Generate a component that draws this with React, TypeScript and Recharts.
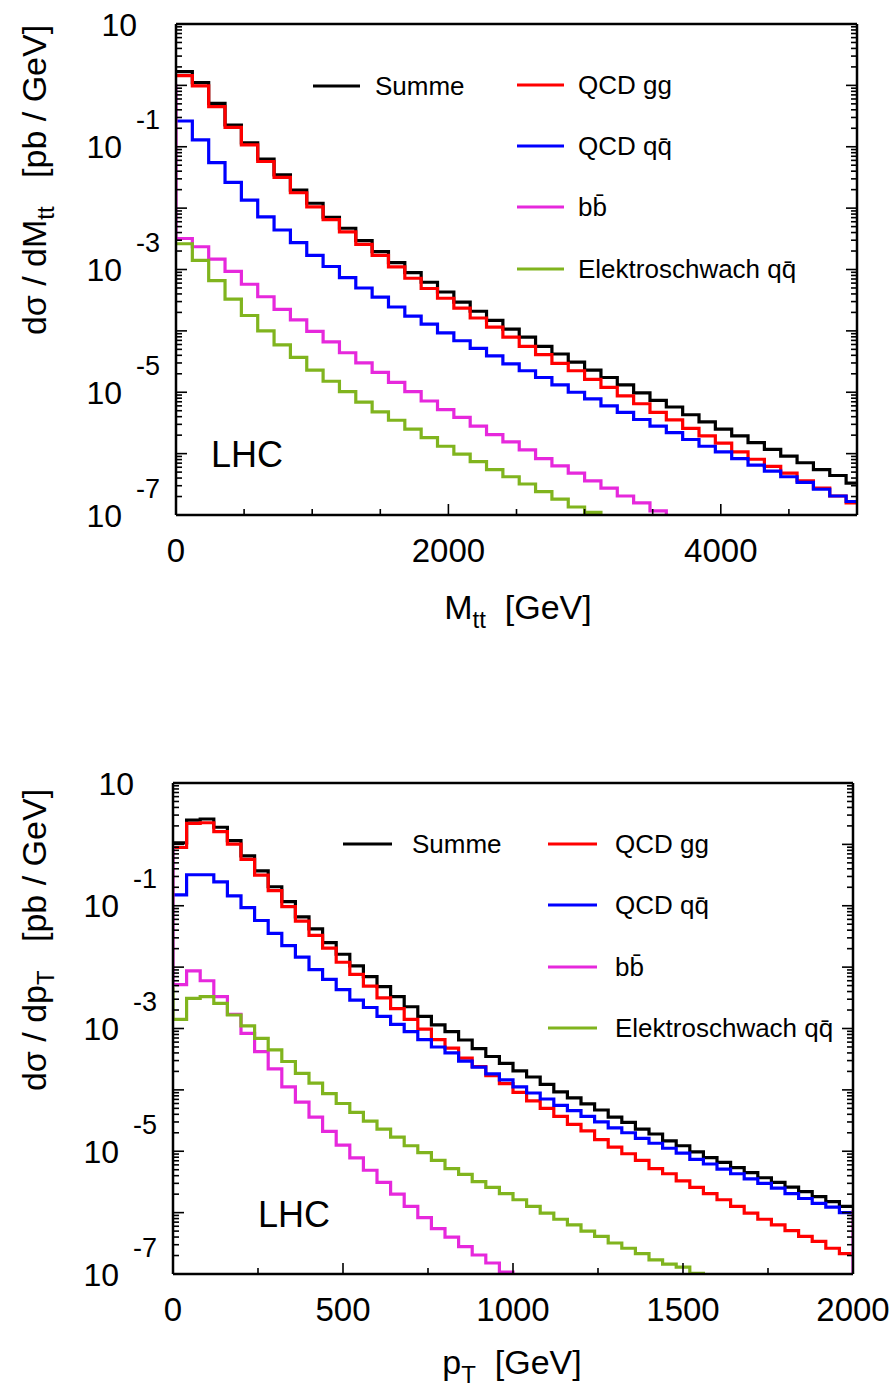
import { LineChart, Line, XAxis, YAxis, Legend } from "recharts";

// ---- data (bin left edges + per-bin values) ----

const MTT_EDGES = [
  0, 120, 240, 360, 480, 600, 720, 840, 960, 1080, 1200, 1320, 1440, 1560, 1680, 1800, 1920, 2040,
  2160, 2280, 2400, 2520, 2640, 2760, 2880, 3000, 3120, 3240, 3360, 3480, 3600, 3720, 3840, 3960,
  4080, 4200, 4320, 4440, 4560, 4680, 4800, 4920, 5040,
];

const MTT_SUMME = [
  1.67, 1.11, 5.1e-1, 2.26e-1, 1.16e-1, 6.3e-2, 3.47e-2, 1.97e-2, 1.2e-2, 7.1e-3, 4.7e-3, 2.95e-3,
  1.95e-3, 1.29e-3, 8.9e-4, 6.2e-4, 4.3e-4, 2.95e-4, 2.09e-4, 1.48e-4, 1.07e-4, 7.9e-5, 5.6e-5,
  4.2e-5, 3.1e-5, 2.3e-5, 1.74e-5, 1.32e-5, 9.8e-6, 7.4e-6, 5.75e-6, 4.3e-6, 3.3e-6, 2.5e-6,
  1.95e-6, 1.51e-6, 1.17e-6, 9.1e-7, 7.1e-7, 5.5e-7, 4.4e-7, 3.3e-7,
];
const MTT_GG = [
  1.44, 9.8e-1, 4.5e-1, 2.07e-1, 1.07e-1, 5.75e-2, 3.16e-2, 1.78e-2, 1.05e-2, 6.5e-3, 4.1e-3,
  2.57e-3, 1.7e-3, 1.1e-3, 7.2e-4, 4.9e-4, 3.4e-4, 2.34e-4, 1.62e-4, 1.15e-4, 7.9e-5, 5.6e-5,
  4.1e-5, 2.95e-5, 2.24e-5, 1.62e-5, 1.2e-5, 8.7e-6, 6.5e-6, 4.7e-6, 3.55e-6, 2.57e-6, 1.95e-6,
  1.48e-6, 1.07e-6, 8.1e-7, 6.2e-7, 4.8e-7, 3.6e-7, 2.75e-7, 2.04e-7, 1.58e-7,
];
const MTT_QQ = [
  2.63e-1, 1.29e-1, 5.5e-2, 2.63e-2, 1.35e-2, 7.2e-3, 4.4e-3, 2.75e-3, 1.7e-3, 1.12e-3, 7.4e-4,
  5.0e-4, 3.55e-4, 2.45e-4, 1.74e-4, 1.29e-4, 9.3e-5, 6.9e-5, 5.2e-5, 3.9e-5, 2.9e-5, 2.24e-5,
  1.74e-5, 1.32e-5, 1.0e-5, 7.8e-6, 6.0e-6, 4.7e-6, 3.6e-6, 2.8e-6, 2.2e-6, 1.7e-6, 1.32e-6,
  1.07e-6, 8.3e-7, 6.5e-7, 5.2e-7, 4.2e-7, 3.4e-7, 2.63e-7, 2.04e-7, 1.66e-7,
];
const MTT_BB_START = 1.05;
const MTT_BB = [
  3.2e-3, 2.35e-3, 1.48e-3, 9.3e-4, 5.75e-4, 3.6e-4, 2.24e-4, 1.51e-4, 9.8e-5, 6.6e-5, 4.4e-5,
  3.0e-5, 2.1e-5, 1.45e-5, 1.02e-5, 7.2e-6, 5.2e-6, 3.9e-6, 2.8e-6, 2.04e-6, 1.55e-6, 1.15e-6,
  8.3e-7, 6.3e-7, 4.8e-7, 3.6e-7, 2.75e-7, 2.04e-7, 1.58e-7, 1.17e-7, 8.5e-8,
];
const MTT_EW = [
  2.63e-3, 1.41e-3, 6.6e-4, 3.3e-4, 1.78e-4, 1.0e-4, 5.9e-5, 3.7e-5, 2.3e-5, 1.51e-5, 1.02e-5,
  6.9e-6, 4.8e-6, 3.5e-6, 2.5e-6, 1.82e-6, 1.32e-6, 9.8e-7, 7.4e-7, 5.5e-7, 4.2e-7, 3.2e-7,
  2.4e-7, 1.82e-7, 1.35e-7, 1.1e-7, 8.5e-8,
];

const PT_EDGES = [
  0, 40, 80, 120, 160, 200, 240, 280, 320, 360, 400, 440, 480, 520, 560, 600, 640, 680, 720, 760,
  800, 840, 880, 920, 960, 1000, 1040, 1080, 1120, 1160, 1200, 1240, 1280, 1320, 1360, 1400, 1440,
  1480, 1520, 1560, 1600, 1640, 1680, 1720, 1760, 1800, 1840, 1880, 1920, 1960, 2000,
];

const PT_SUMME = [
  1.06, 2.49, 2.59, 1.9, 1.15, 6.5e-1, 3.7e-1, 2.04e-1, 1.17e-1, 6.6e-2, 4.2e-2, 2.5e-2, 1.62e-2,
  1.05e-2, 7.0e-3, 4.8e-3, 3.3e-3, 2.26e-3, 1.58e-3, 1.15e-3, 8.9e-4, 6.5e-4, 4.7e-4, 3.5e-4,
  2.7e-4, 2.04e-4, 1.62e-4, 1.23e-4, 9.3e-5, 7.4e-5, 5.9e-5, 4.7e-5, 3.6e-5, 2.95e-5, 2.3e-5,
  1.91e-5, 1.48e-5, 1.23e-5, 9.8e-6, 7.9e-6, 6.6e-6, 5.4e-6, 4.5e-6, 3.7e-6, 3.1e-6, 2.6e-6,
  2.2e-6, 1.82e-6, 1.51e-6, 1.26e-6,
];
const PT_GG = [
  8.9e-1, 2.2, 2.25, 1.61, 1.01, 5.7e-1, 3.16e-1, 1.76e-1, 9.7e-2, 5.6e-2, 3.3e-2, 2.04e-2, 1.2e-2,
  7.6e-3, 4.9e-3, 3.16e-3, 2.1e-3, 1.41e-3, 9.8e-4, 6.6e-4, 4.8e-4, 3.3e-4, 2.4e-4, 1.7e-4,
  1.26e-4, 9.1e-5, 6.6e-5, 5.0e-5, 3.7e-5, 2.75e-5, 2.14e-5, 1.55e-5, 1.17e-5, 9.1e-6, 7.1e-6,
  5.2e-6, 4.3e-6, 3.3e-6, 2.57e-6, 2.04e-6, 1.62e-6, 1.26e-6, 9.8e-7, 7.8e-7, 6.3e-7, 5.1e-7,
  4.1e-7, 3.4e-7, 2.63e-7, 2.14e-7,
];
const PT_QQ = [
  1.5e-1, 3.2e-1, 3.2e-1, 2.45e-1, 1.45e-1, 9.3e-2, 5.75e-2, 3.55e-2, 2.24e-2, 1.45e-2, 9.1e-3,
  6.3e-3, 4.3e-3, 2.9e-3, 2.2e-3, 1.58e-3, 1.17e-3, 8.9e-4, 6.6e-4, 5.0e-4, 4.0e-4, 2.95e-4,
  2.34e-4, 1.82e-4, 1.45e-4, 1.12e-4, 8.9e-5, 7.1e-5, 5.6e-5, 4.6e-5, 3.7e-5, 3.0e-5, 2.4e-5,
  2.0e-5, 1.62e-5, 1.35e-5, 1.12e-5, 9.3e-6, 7.4e-6, 6.2e-6, 5.1e-6, 4.3e-6, 3.55e-6, 3.0e-6,
  2.5e-6, 2.04e-6, 1.7e-6, 1.41e-6, 1.23e-6, 1.0e-6,
];
const PT_BB_START = 0.94;
const PT_BB = [
  5.2e-3, 8.7e-3, 6.0e-3, 3.3e-3, 1.7e-3, 8.3e-4, 4.2e-4, 2.2e-4, 1.12e-4, 6.3e-5, 3.6e-5, 2.1e-5,
  1.26e-5, 7.8e-6, 4.9e-6, 3.1e-6, 2.0e-6, 1.26e-6, 8.3e-7, 5.5e-7, 4.0e-7, 2.8e-7, 2.04e-7,
  1.51e-7, 1.07e-7, 8.0e-8,
];
const PT_BB_END = 1.1e-6; // stray value drawn at p_T = 2000
const PT_EW_START = 4.7e-3;
const PT_EW = [
  1.41e-3, 3.1e-3, 3.3e-3, 2.57e-3, 1.66e-3, 1.1e-3, 6.9e-4, 4.5e-4, 2.9e-4, 1.86e-4, 1.29e-4,
  8.7e-5, 6.0e-5, 4.3e-5, 3.1e-5, 2.3e-5, 1.7e-5, 1.23e-5, 9.5e-6, 7.1e-6, 5.2e-6, 4.2e-6, 3.2e-6,
  2.57e-6, 2.04e-6, 1.62e-6, 1.26e-6, 9.8e-7, 7.8e-7, 6.3e-7, 5.0e-7, 4.1e-7, 3.2e-7, 2.63e-7,
  2.14e-7, 1.7e-7, 1.45e-7, 1.29e-7, 1.02e-7, 8.0e-8,
];

const SERIES_NAMES = ["Summe", "QCD gg", "QCD qq\u0304", "bb\u0304", "Elektroschwach qq\u0304"];
const SERIES_COLORS = ["#000000", "#ff0000", "#0000ff", "#e628dc", "#80b41e"];

const MTT_TICKS = [0, 500, 1000, 1500, 2000, 2500, 3000, 3500, 4000, 4500, 5000];
const MTT_LABELS = [0, 2000, 4000];
const PT_TICKS = [0, 250, 500, 750, 1000, 1250, 1500, 1750, 2000];
const PT_LABELS = [0, 500, 1000, 1500, 2000];

const Y_DECADES = [1e-7, 1e-6, 1e-5, 1e-4, 1e-3, 1e-2, 1e-1, 1, 10];
const Y_LABEL_VALUES = [10, 1e-1, 1e-3, 1e-5, 1e-7];
const Y_LABEL_EXPONENTS = ["", "-1", "-3", "-5", "-7"];

const Y_TICKS = Y_DECADES.flatMap((d, i) =>
  i === Y_DECADES.length - 1 ? [d] : [d, 2 * d, 3 * d, 4 * d, 5 * d, 6 * d, 7 * d, 8 * d, 9 * d]
);

const FONT = "'Liberation Sans', Arial, Helvetica, sans-serif";

type Pt = { x: number; y: number };

function histPoints(edges: number[], values: number[]): Pt[] {
  const pts = values.map((v, i) => ({ x: edges[i], y: v }));
  pts.push({ x: edges[values.length], y: values[values.length - 1] });
  return pts;
}

const sameLog = (a: number, b: number) => Math.abs(Math.log10(a) - Math.log10(b)) < 1e-6;

function XTick(props: any) {
  const { x, y, payload, side, labels } = props;
  const major = labels.includes(payload.value);
  const len = major ? 11 : 6;
  const dir = side === "bottom" ? -1 : 1;
  return (
    <g>
      <line x1={x} y1={y} x2={x} y2={y + dir * len} stroke="#000" strokeWidth={1.6} />
      {side === "bottom" && major && (
        <text x={x} y={y + 35} dy="0.36em" textAnchor="middle" fontSize={33} fontFamily={FONT} fill="#000">
          {payload.value}
        </text>
      )}
    </g>
  );
}

function YTick(props: any) {
  const { x, y, payload, side } = props;
  const v = payload.value;
  const lg = Math.log10(v);
  const decade = Math.abs(lg - Math.round(lg)) < 1e-6;
  const len = decade ? 11 : 6;
  const dir = side === "left" ? 1 : -1;
  const idx = side === "left" ? Y_LABEL_VALUES.findIndex((l) => sameLog(l, v)) : -1;
  const exp = idx >= 0 ? Y_LABEL_EXPONENTS[idx] : null;
  return (
    <g>
      <line x1={x} y1={y} x2={x + dir * len} y2={y} stroke="#000" strokeWidth={1.6} />
      {exp === "" && (
        <text x={x - 39} y={y} dy="0.36em" textAnchor="end" fontSize={32} fontFamily={FONT} fill="#000">
          10
        </text>
      )}
      {exp && (
        <g fontFamily={FONT} fill="#000">
          <text x={x - 54} y={y} dy="0.36em" textAnchor="end" fontSize={32}>
            10
          </text>
          <text x={x - 16} y={y - 27} dy="0.36em" textAnchor="end" fontSize={27}>
            {exp}
          </text>
        </g>
      )}
    </g>
  );
}

type Spot = { lineX: number; textX: number; y: number };

function LegendBox({ payload, spots, lineLen, h }: { payload: any[]; spots: Spot[]; lineLen: number; h: number }) {
  return (
    <svg width={896} height={h} style={{ position: "absolute", left: 0, top: 0 }}>
      {(payload ?? []).map((item) => {
        const s = spots[SERIES_NAMES.indexOf(item.value)];
        if (!s) return null;
        return (
          <g key={item.value}>
            <line x1={s.lineX} y1={s.y} x2={s.lineX + lineLen} y2={s.y} stroke={item.color} strokeWidth={3.2} />
            <text x={s.textX} y={s.y} dy="0.36em" fontSize={26} fontFamily={FONT} fill="#000">
              {item.value}
            </text>
          </g>
        );
      })}
    </svg>
  );
}

type PanelProps = {
  top: number;
  height: number;
  plot: { left: number; top: number; right: number; bottom: number };
  xMax: number;
  xTicks: number[];
  xLabels: number[];
  series: Pt[][];
  spots: Spot[];
  lineLen: number;
  lhc: { x: number; y: number };
  xTitle: { x: number; y: number; main: string; sub: string };
  yTitle: { x: number; y: number; main: string; sub: string };
};

const AXIS_LINE = { stroke: "#000", strokeWidth: 2.5 };

function Panel(p: PanelProps) {
  // each axis takes 1px of room, so margins are one pixel short of the plot frame
  const margin = {
    top: p.plot.top - 1,
    left: p.plot.left - 1,
    right: 896 - p.plot.right - 1,
    bottom: p.height - p.plot.bottom - 1,
  };
  return (
    <div style={{ position: "absolute", left: 0, top: p.top, width: 896, height: p.height }}>
      <LineChart width={896} height={p.height} margin={margin}>
        <XAxis
          dataKey="x"
          type="number"
          domain={[0, p.xMax]}
          allowDataOverflow
          ticks={p.xTicks}
          interval={0}
          height={1}
          tickSize={0}
          tickMargin={0}
          tickLine={false}
          axisLine={AXIS_LINE}
          tick={<XTick side="bottom" labels={p.xLabels} />}
        />
        <XAxis
          xAxisId="top"
          orientation="top"
          type="number"
          domain={[0, p.xMax]}
          allowDataOverflow
          ticks={p.xTicks}
          interval={0}
          height={1}
          tickSize={0}
          tickMargin={0}
          tickLine={false}
          axisLine={AXIS_LINE}
          tick={<XTick side="top" labels={p.xLabels} />}
        />
        <YAxis
          type="number"
          scale="log"
          domain={[1e-7, 10]}
          allowDataOverflow
          ticks={Y_TICKS}
          interval={0}
          width={1}
          tickSize={0}
          tickMargin={0}
          tickLine={false}
          axisLine={AXIS_LINE}
          tick={<YTick side="left" />}
        />
        <YAxis
          yAxisId="right"
          orientation="right"
          type="number"
          scale="log"
          domain={[1e-7, 10]}
          allowDataOverflow
          ticks={Y_TICKS}
          interval={0}
          width={1}
          tickSize={0}
          tickMargin={0}
          tickLine={false}
          axisLine={AXIS_LINE}
          tick={<YTick side="right" />}
        />
        {p.series.map((pts, i) => (
          <Line
            key={SERIES_NAMES[i]}
            name={SERIES_NAMES[i]}
            data={pts}
            dataKey="y"
            type="stepAfter"
            stroke={SERIES_COLORS[i]}
            strokeWidth={3.2}
            strokeLinejoin="miter"
            dot={false}
            activeDot={false}
            connectNulls
            isAnimationActive={false}
          />
        ))}
        <Legend
          layout="horizontal"
          verticalAlign="middle"
          align="center"
          wrapperStyle={{ left: 0, top: 0, width: 896, height: p.height, pointerEvents: "none" }}
          content={(lp: any) => <LegendBox payload={lp.payload} spots={p.spots} lineLen={p.lineLen} h={p.height} />}
        />
      </LineChart>
      <svg
        width={896}
        height={p.height}
        style={{ position: "absolute", left: 0, top: 0, pointerEvents: "none" }}
        fontFamily={FONT}
        fill="#000"
      >
        <text x={p.lhc.x} y={p.lhc.y} dy="0.36em" textAnchor="middle" fontSize={36}>
          LHC
        </text>
        <text x={p.xTitle.x} y={p.xTitle.y} dy="0.36em" textAnchor="middle" fontSize={34}>
          {p.xTitle.main}
          <tspan fontSize={24} dy={9}>
            {p.xTitle.sub}
          </tspan>
          <tspan dy={-9}>{"\u00a0\u00a0[GeV]"}</tspan>
        </text>
        <text
          x={p.yTitle.x}
          y={p.yTitle.y}
          textAnchor="middle"
          fontSize={34}
          transform={`rotate(-90 ${p.yTitle.x} ${p.yTitle.y})`}
        >
          {p.yTitle.main}
          <tspan fontSize={24} dy={8}>
            {p.yTitle.sub}
          </tspan>
          <tspan dy={-8}>{"\u00a0\u00a0\u00a0[pb / GeV]"}</tspan>
        </text>
      </svg>
    </div>
  );
}

export default function App() {
  const mttSeries = [
    histPoints(MTT_EDGES, MTT_SUMME),
    histPoints(MTT_EDGES, MTT_GG),
    histPoints(MTT_EDGES, MTT_QQ),
    [{ x: 0, y: MTT_BB_START }, ...histPoints(MTT_EDGES, MTT_BB)],
    histPoints(MTT_EDGES, MTT_EW),
  ];
  const ptSeries = [
    histPoints(PT_EDGES, PT_SUMME),
    histPoints(PT_EDGES, PT_GG),
    histPoints(PT_EDGES, PT_QQ),
    [{ x: 0, y: PT_BB_START }, ...histPoints(PT_EDGES, PT_BB), { x: 2000, y: PT_BB_END }],
    [{ x: 0, y: PT_EW_START }, ...histPoints(PT_EDGES, PT_EW)],
  ];

  return (
    <div style={{ position: "absolute", left: 0, top: 0, width: 896, height: 1390, background: "#fff" }}>
      <Panel
        top={0}
        height={660}
        plot={{ left: 176, top: 24, right: 857, bottom: 515 }}
        xMax={5000}
        xTicks={MTT_TICKS}
        xLabels={MTT_LABELS}
        series={mttSeries}
        spots={[
          { lineX: 313, textX: 375, y: 86 },
          { lineX: 517, textX: 578, y: 85 },
          { lineX: 517, textX: 578, y: 146 },
          { lineX: 517, textX: 578, y: 207 },
          { lineX: 517, textX: 578, y: 269 },
        ]}
        lineLen={47}
        lhc={{ x: 247, y: 454 }}
        xTitle={{ x: 518, y: 607, main: "M", sub: "tt" }}
        yTitle={{ x: 46, y: 180, main: "d\u03c3 / dM", sub: "tt" }}
      />
      <Panel
        top={700}
        height={690}
        plot={{ left: 173, top: 83, right: 853, bottom: 574 }}
        xMax={2000}
        xTicks={PT_TICKS}
        xLabels={PT_LABELS}
        series={ptSeries}
        spots={[
          { lineX: 343, textX: 412, y: 144 },
          { lineX: 548, textX: 615, y: 144 },
          { lineX: 548, textX: 615, y: 205 },
          { lineX: 548, textX: 615, y: 267 },
          { lineX: 548, textX: 615, y: 328 },
        ]}
        lineLen={49}
        lhc={{ x: 294, y: 514 }}
        xTitle={{ x: 512, y: 662, main: "p", sub: "T" }}
        yTitle={{ x: 46, y: 240, main: "d\u03c3 / dp", sub: "T" }}
      />
    </div>
  );
}
